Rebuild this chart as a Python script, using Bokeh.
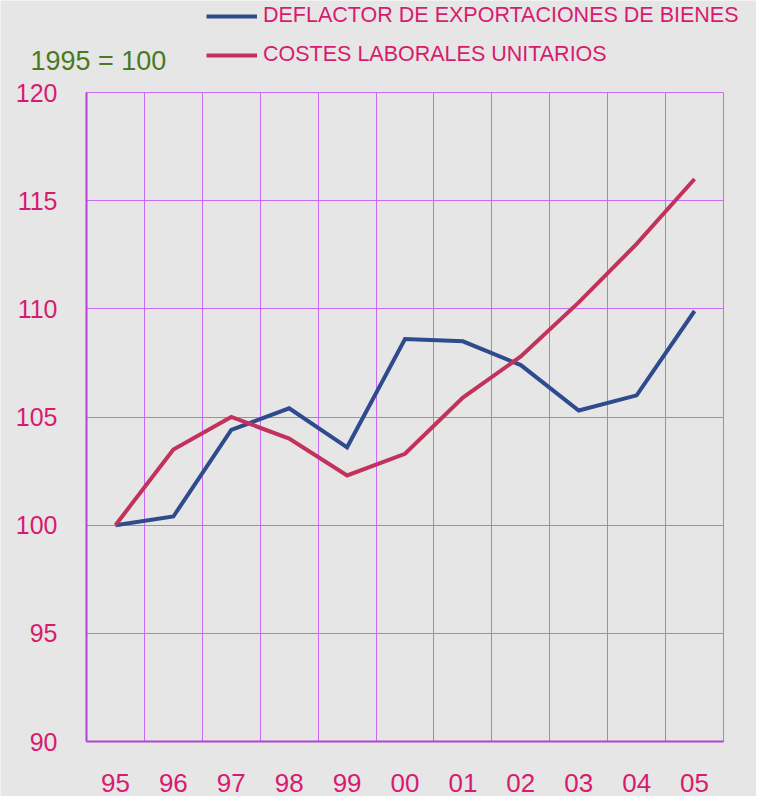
from bokeh.plotting import figure
from bokeh.models import FixedTicker, Legend, LegendItem, Label, Range1d
from bokeh.embed import file_html
from bokeh.resources import INLINE

years = ["95", "96", "97", "98", "99", "00", "01", "02", "03", "04", "05"]
deflactor = [100.0, 100.4, 104.4, 105.4, 103.6, 108.6, 108.5, 107.4, 105.3, 106.0, 109.9]
costes = [100.0, 103.5, 105.0, 104.0, 102.3, 103.3, 105.9, 107.8, 110.3, 113.0, 116.0]
y_ticks = [90, 95, 100, 105, 110, 115, 120]
series_names = ["DEFLACTOR DE EXPORTACIONES DE BIENES", "COSTES LABORALES UNITARIOS"]
base_label = "1995 = 100"

FONT = "Liberation Sans"
BG = "#e6e6e6"
MAGENTA = "#d81b6e"
GREEN = "#4a7a1e"
GRID = "#c76cf2"
AXIS = "#b442d2"
BLUE = "#2e4b8e"
RED = "#c2325c"

W, H = 756, 796
# plot area in figure pixels
PL, PR, PT, PB = 86, 723, 92, 741

x = list(range(len(years)))
x0, x1 = -0.5, len(years) - 0.5
y0, y1 = y_ticks[0], y_ticks[-1]
kx = (PR - PL) / (x1 - x0)
ky = (PB - PT) / (y1 - y0)

p = figure(width=W, height=H, output_backend="svg", toolbar_location=None,
           x_range=Range1d(x0 - PL / kx, x1 + (W - PR) / kx),
           y_range=Range1d(y0 - (H - PB) / ky, y1 + PT / ky),
           min_border_left=0, min_border_right=0, min_border_top=0, min_border_bottom=0,
           background_fill_color=BG, border_fill_color=BG)
p.outline_line_color = None

p.xaxis.ticker = FixedTicker(ticks=x)
p.xaxis.major_label_overrides = {i: lab for i, lab in enumerate(years)}
p.xaxis.fixed_location = y0
p.xaxis.bounds = (x0, x1)
p.yaxis.ticker = FixedTicker(ticks=y_ticks)
p.yaxis.fixed_location = x0
p.yaxis.bounds = (y0, y1)

p.xgrid.ticker = FixedTicker(ticks=[i - 0.5 for i in range(len(years) + 1)])
p.xgrid.cross_bounds = (y0, y1)
p.ygrid.ticker = FixedTicker(ticks=y_ticks)
p.ygrid.cross_bounds = (x0, x1)

for g in (p.xgrid, p.ygrid):
    g.grid_line_color = GRID
    g.grid_line_width = 1

for ax in (p.xaxis, p.yaxis):
    ax.axis_line_color = AXIS
    ax.axis_line_width = 2
    ax.major_tick_line_color = None
    ax.minor_tick_line_color = None
    ax.major_label_text_color = MAGENTA
    ax.major_label_text_font = FONT

p.yaxis.major_label_text_font_size = "25px"
p.yaxis.major_label_standoff = 23
p.xaxis.major_label_text_font_size = "26px"
p.xaxis.major_label_standoff = 26

r1 = p.line(x, deflactor, line_color=BLUE, line_width=4, line_join="miter")
r2 = p.line(x, costes, line_color=RED, line_width=4, line_join="miter")

legend = Legend(items=[LegendItem(label=series_names[0], renderers=[r1]),
                       LegendItem(label=series_names[1], renderers=[r2])],
                location=(206, H - 67))
legend.background_fill_alpha = 0
legend.border_line_alpha = 0
legend.label_text_color = MAGENTA
legend.label_text_font = FONT
legend.label_text_font_size = "21.5px"
legend.glyph_width = 51
legend.glyph_height = 20
legend.label_height = 20
legend.label_standoff = 6
legend.spacing = 14
legend.padding = 0
legend.margin = 0
p.add_layout(legend)

p.add_layout(Label(x=30, y=H - 60, x_units="screen", y_units="screen", text=base_label,
                   text_color=GREEN, text_font=FONT, text_font_size="27px",
                   text_baseline="middle"))

open("out.html", "w").write(file_html(p, INLINE))
